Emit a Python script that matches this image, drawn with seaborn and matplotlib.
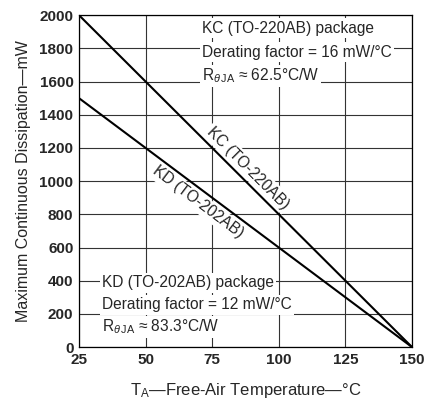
import matplotlib
matplotlib.use("Agg")
import matplotlib.pyplot as plt
import seaborn as sns
import pandas as pd

temps = [25, 150]
kc_power = [2000, 0]
kd_power = [1500, 0]
x_ticks = [25, 50, 75, 100, 125, 150]
y_ticks = [0, 200, 400, 600, 800, 1000, 1200, 1400, 1600, 1800, 2000]

sns.set_style("ticks")
plt.rcParams['font.family'] = ['Liberation Sans', 'DejaVu Sans']
plt.rcParams['mathtext.fontset'] = 'custom'
plt.rcParams['mathtext.rm'] = 'Liberation Sans'
plt.rcParams['mathtext.it'] = 'Liberation Sans:italic'

df = pd.concat([
    pd.DataFrame({"T": temps, "P": kc_power, "dev": "KC"}),
    pd.DataFrame({"T": temps, "P": kd_power, "dev": "KD"}),
])

fig = plt.figure(figsize=(4.27, 3.99), dpi=100)
ax = fig.add_axes([0.185, 0.130, 0.780, 0.832])
ax.set_xlim(25, 150)
ax.set_ylim(0, 2000)
ax.set_xticks(x_ticks)
ax.set_yticks(y_ticks)
ax.grid(True, color="#333333", linewidth=0.8)
ax.tick_params(length=0, labelsize=11, pad=4)
for lab in ax.get_xticklabels() + ax.get_yticklabels():
    lab.set_fontweight("bold")
for s in ax.spines.values():
    s.set_linewidth(0.9)
    s.set_color("black")

sns.lineplot(data=df, x="T", y="P", hue="dev", palette=["black", "black"],
             linewidth=1.5, legend=False, ax=ax, zorder=3)

ax.set_xlabel(r"T$_{\mathrm{A}}$—Free-Air Temperature—°C", fontsize=12, labelpad=10)
ax.set_ylabel("Maximum Continuous Dissipation—mW", fontsize=11.5, labelpad=6)

box = dict(facecolor="white", edgecolor="none", pad=1.5)
fs = 11.2
top_lines = ["KC (TO-220AB) package", "Derating factor = 16 mW/°C",
             r"R$_{\theta\,\mathrm{JA}}$ ≈ 62.5°C/W"]
top_ys = [28, 52, 76]
for t, yp in zip(top_lines, top_ys):
    fig.text(202 / 427, 1 - yp / 399, t, fontsize=fs, va="center", ha="left", bbox=box)

bot_lines = ["KD (TO-202AB) package", "Derating factor = 12 mW/°C",
             r"R$_{\theta\,\mathrm{JA}}$ ≈ 83.3°C/W"]
bot_ys = [283, 305, 327]
for t, yp in zip(bot_lines, bot_ys):
    fig.text(102 / 427, 1 - yp / 399, t, fontsize=fs, va="center", ha="left", bbox=box)

ax.text(88.5, 1080, "KC (TO-220AB)", rotation=-45, rotation_mode="anchor",
        ha="center", va="center", fontsize=fs, bbox=box, zorder=4)
ax.text(69.7, 873, "KD (TO-202AB)", rotation=-37, rotation_mode="anchor",
        ha="center", va="center", fontsize=fs, bbox=box, zorder=4)

fig.savefig("out.png", dpi=100)
